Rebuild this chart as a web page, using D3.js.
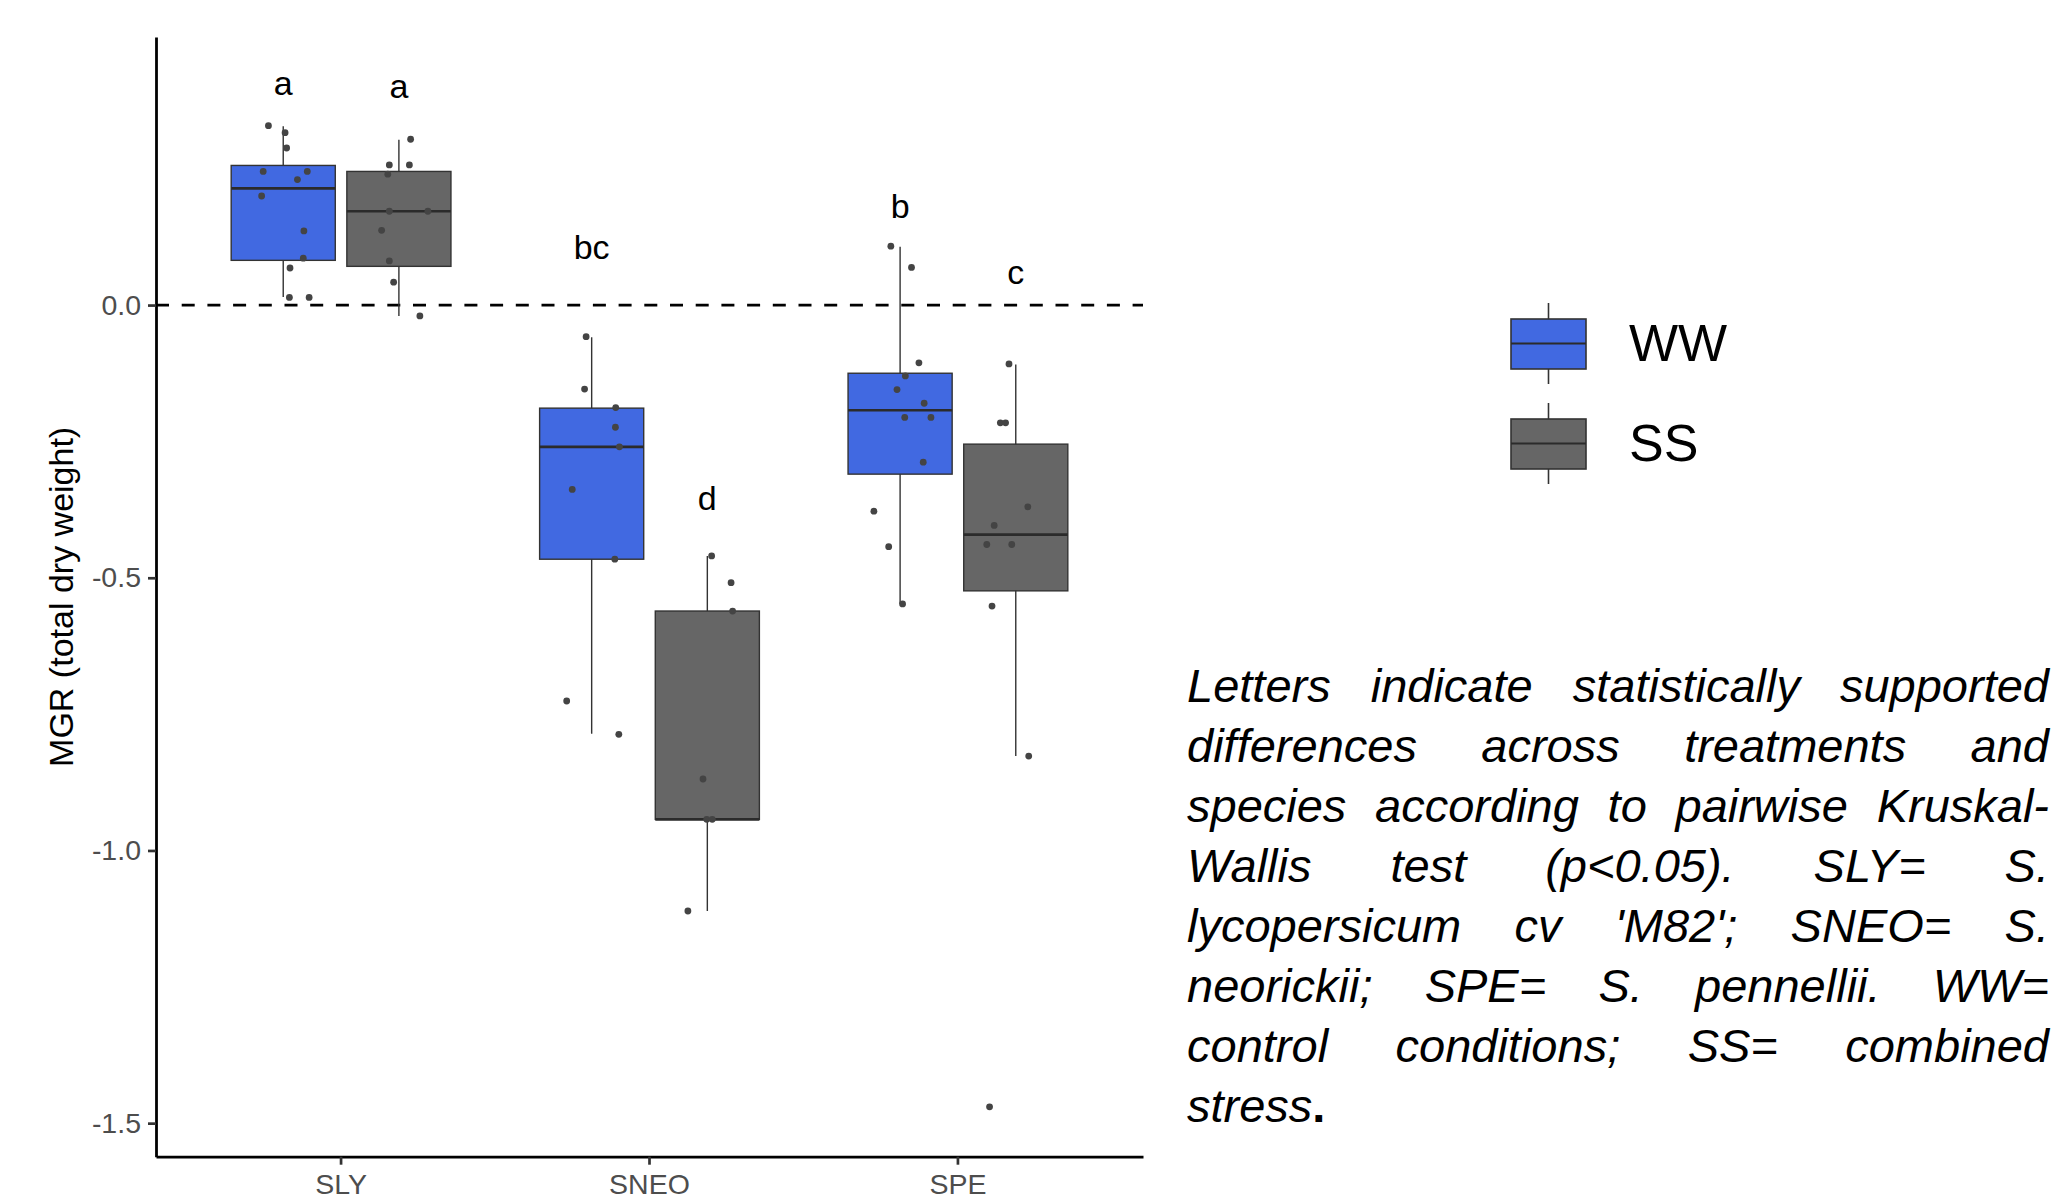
<!DOCTYPE html>
<html>
<head>
<meta charset="utf-8">
<script src="https://cdn.jsdelivr.net/npm/d3@7"></script>
<style>
  body { margin: 0; background: #fff; }
  svg text { font-family: "Liberation Sans", Arial, sans-serif; }
</style>
</head>
<body>
<svg id="chart" width="2060" height="1203"></svg>
<script>
// categories
const species = ["SLY", "SNEO", "SPE"];
const treatments = ["WW", "SS"];

// box stats, order: SLY-WW, SLY-SS, SNEO-WW, SNEO-SS, SPE-WW, SPE-SS
const whiskerLow  = [0.015, -0.020, -0.786, -1.111, -0.548, -0.827];
const lowerHinge  = [0.082,  0.071, -0.466, -0.943, -0.310, -0.524];
const medians     = [0.214,  0.172, -0.260, -0.943, -0.193, -0.421];
const upperHinge  = [0.256,  0.245, -0.189, -0.561, -0.125, -0.255];
const whiskerHigh = [0.328,  0.303, -0.059, -0.460,  0.107, -0.109];

// significance letters
const groupLetters = ["a", "a", "bc", "d", "b", "c"];
const letterY = [0.386, 0.380, 0.085, -0.375, 0.160, 0.038];

// jittered observations (MGR value) and their jitter (fraction of a category step)
const pointValues = [
  [0.329, 0.316, 0.288, 0.245, 0.245, 0.230, 0.200, 0.136, 0.086, 0.068, 0.014, 0.014],
  [0.304, 0.257, 0.257, 0.240, 0.172, 0.172, 0.137, 0.081, 0.042, -0.020],
  [-0.058, -0.154, -0.188, -0.224, -0.260, -0.338, -0.466, -0.726, -0.787],
  [-0.460, -0.509, -0.561, -0.869, -0.943, -0.943, -1.111],
  [0.108, 0.069, -0.106, -0.130, -0.155, -0.180, -0.206, -0.206, -0.288, -0.378, -0.443, -0.548],
  [-0.108, -0.216, -0.216, -0.370, -0.404, -0.439, -0.439, -0.552, -0.827, -1.470]
];
const pointJitter = [
  [-0.048, 0.006, 0.011, -0.065, 0.078, 0.046, -0.070, 0.067, 0.065, 0.022, 0.020, 0.084],
  [0.038, -0.031, 0.034, -0.036, -0.031, 0.094, -0.056, -0.031, -0.017, 0.068],
  [-0.018, -0.023, 0.078, 0.077, 0.090, -0.063, 0.075, -0.081, 0.088],
  [0.014, 0.077, 0.082, -0.014, -0.002, 0.016, -0.063],
  [-0.030, 0.037, 0.061, 0.017, -0.010, 0.078, 0.015, 0.100, 0.075, -0.085, -0.037, 0.008],
  [-0.022, -0.050, -0.033, 0.039, -0.070, -0.094, -0.013, -0.077, 0.042, -0.085]
];

const yTicks = [0, -0.5, -1.0, -1.5];
const yTitle = "MGR (total dry weight)";

const captionLines = [
  "Letters indicate statistically supported",
  "differences across treatments and",
  "species according to pairwise Kruskal-",
  "Wallis test (p<0.05). SLY= S.",
  "lycopersicum cv 'M82'; SNEO= S.",
  "neorickii; SPE= S. pennellii. WW=",
  "control conditions; SS= combined",
  "stress."
];

const fills = { WW: "#4169E1", SS: "#666666" };

var svg = d3.select("#chart");

var panel = { left: 156, right: 1143, top: 37, bottom: 1156.7 };

var x = d3.scaleBand()
  .domain(species)
  .range([panel.left, panel.right])
  .paddingInner(0)
  .paddingOuter(0.1);

var xInner = d3.scaleBand()
  .domain(treatments)
  .range([x.step() * 0.125, x.step() * 0.875])
  .paddingInner(0.1)
  .paddingOuter(0.05);

var y = d3.scaleLinear()
  .domain([-1.5615, 0.4915])
  .range([panel.bottom, panel.top]);

// groups flattened
var groups = [];
species.forEach(function (s) {
  treatments.forEach(function (t) {
    groups.push({ species: s, treatment: t });
  });
});
groups.forEach(function (g, i) {
  g.cx = x(g.species) + xInner(g.treatment) + xInner.bandwidth() / 2;
  g.lo = whiskerLow[i]; g.q1 = lowerHinge[i]; g.med = medians[i];
  g.q3 = upperHinge[i]; g.hi = whiskerHigh[i];
  g.letter = groupLetters[i]; g.letterY = letterY[i];
});

var bw = xInner.bandwidth();

// reference line at zero
svg.append("line")
  .attr("x1", panel.left).attr("x2", panel.right)
  .attr("y1", y(0)).attr("y2", y(0))
  .attr("stroke", "#000")
  .attr("stroke-width", 2.8)
  .attr("stroke-dasharray", "13,12.7");

// boxes
var box = svg.append("g").selectAll("g.box")
  .data(groups)
  .enter().append("g").attr("class", "box");

box.append("line")
  .attr("x1", d => d.cx).attr("x2", d => d.cx)
  .attr("y1", d => y(d.hi)).attr("y2", d => y(d.lo))
  .attr("stroke", "#333").attr("stroke-width", 1.4);

box.append("rect")
  .attr("x", d => d.cx - bw / 2)
  .attr("width", bw)
  .attr("y", d => y(d.q3))
  .attr("height", d => y(d.q1) - y(d.q3))
  .attr("fill", d => fills[d.treatment])
  .attr("stroke", "#333").attr("stroke-width", 1.4);

box.append("line")
  .attr("x1", d => d.cx - bw / 2).attr("x2", d => d.cx + bw / 2)
  .attr("y1", d => y(d.med)).attr("y2", d => y(d.med))
  .attr("stroke", "#2b2b2b").attr("stroke-width", 2.6);

// jittered points
var pts = [];
groups.forEach(function (g, i) {
  pointValues[i].forEach(function (v, j) {
    pts.push({ cx: g.cx, value: v, jitter: pointJitter[i][j] });
  });
});
svg.append("g").selectAll("circle")
  .data(pts)
  .enter().append("circle")
  .attr("cx", d => d.cx + d.jitter * x.step())
  .attr("cy", d => y(d.value))
  .attr("r", 3.4)
  .attr("fill", "#444");

// letters
svg.append("g").selectAll("text")
  .data(groups)
  .enter().append("text")
  .attr("x", d => d.cx)
  .attr("y", d => y(d.letterY))
  .attr("text-anchor", "middle")
  .attr("font-size", 34)
  .attr("fill", "#000")
  .text(d => d.letter);

// axes
var yAxis = svg.append("g")
  .attr("transform", "translate(" + panel.left + ",0)")
  .call(d3.axisLeft(y).tickValues(yTicks).tickFormat(d => d.toFixed(1))
    .tickSize(8).tickSizeOuter(0).tickPadding(7));

var xAxis = svg.append("g")
  .attr("transform", "translate(0," + panel.bottom + ")")
  .call(d3.axisBottom(x).tickSize(8).tickSizeOuter(0).tickPadding(9));

[xAxis, yAxis].forEach(function (a) {
  a.select(".domain").attr("stroke", "#000").attr("stroke-width", 2.8);
  a.selectAll(".tick line").attr("stroke", "#333").attr("stroke-width", 2.7);
  a.selectAll(".tick text")
    .attr("fill", "#4d4d4d")
    .attr("font-size", 28.5)
    .attr("font-family", "Liberation Sans, Arial, sans-serif");
});

svg.append("text")
  .attr("transform", "translate(73," + ((panel.top + panel.bottom) / 2) + ") rotate(-90)")
  .attr("text-anchor", "middle")
  .attr("font-size", 34)
  .attr("fill", "#000")
  .text(yTitle);

// legend
var legend = svg.append("g").selectAll("g")
  .data(treatments)
  .enter().append("g")
  .attr("transform", (d, i) => "translate(1511," + (303 + i * 100) + ")");

legend.append("line")
  .attr("x1", 37.5).attr("x2", 37.5).attr("y1", 0).attr("y2", 81)
  .attr("stroke", "#333").attr("stroke-width", 1.6);
legend.append("rect")
  .attr("x", 0).attr("y", 16).attr("width", 75).attr("height", 50)
  .attr("fill", d => fills[d])
  .attr("stroke", "#333").attr("stroke-width", 1.6);
legend.append("line")
  .attr("x1", 0).attr("x2", 75).attr("y1", 40.5).attr("y2", 40.5)
  .attr("stroke", "#2b2b2b").attr("stroke-width", 1.8);
legend.append("text")
  .attr("x", 118).attr("y", 58)
  .attr("font-size", 52)
  .attr("fill", "#000")
  .text(d => d);

// caption, justified
var capLeft = 1187, capRight = 2049, capTop = 702, capStep = 60;
var cap = svg.append("g")
  .attr("font-size", 47)
  .attr("font-style", "italic")
  .attr("fill", "#000");

captionLines.forEach(function (line, i) {
  var words = line.split(" ");
  var last = i === captionLines.length - 1;
  var texts = words.map(function (w) {
    var t = cap.append("text").attr("y", capTop + i * capStep);
    if (last && w.endsWith(".")) {
      t.append("tspan").text(w.slice(0, -1));
      t.append("tspan").attr("font-style", "normal").attr("font-weight", "bold").text(".");
    } else {
      t.text(w);
    }
    return t;
  });
  var widths = texts.map(t => t.node().getComputedTextLength());
  var total = d3.sum(widths);
  var gap = (last || words.length < 2) ? 13 : (capRight - capLeft - total) / (words.length - 1);
  var cx = capLeft;
  texts.forEach(function (t, j) {
    t.attr("x", cx);
    cx += widths[j] + gap;
  });
});
</script>
</body>
</html>
